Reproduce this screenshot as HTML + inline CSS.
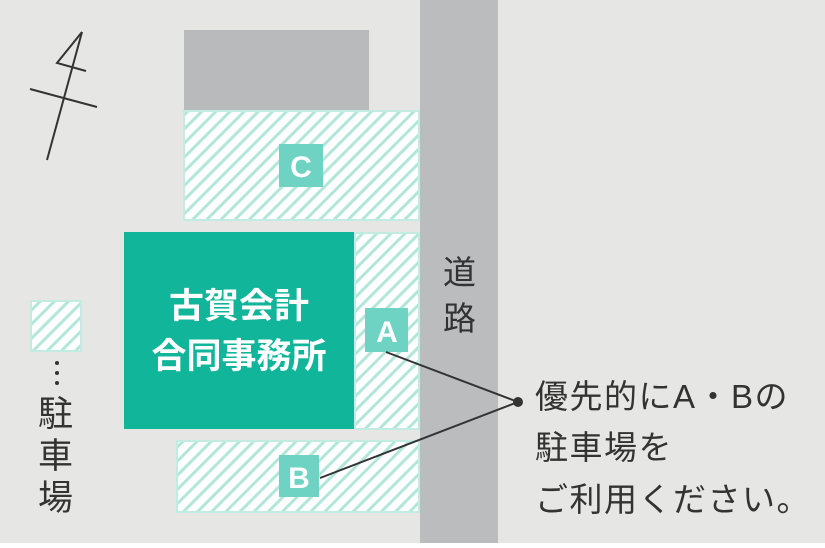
<!DOCTYPE html>
<html><head><meta charset="utf-8"><style>
body{margin:0}
svg text{font-family:"Liberation Sans","Noto Sans CJK JP",sans-serif}
</style></head><body>
<svg width="825" height="543" viewBox="0 0 825 543" xmlns="http://www.w3.org/2000/svg">
<defs>
<pattern id="h" patternUnits="userSpaceOnUse" width="10" height="10" patternTransform="rotate(45)">
<rect width="10" height="10" fill="#fff"/>
<rect x="0" y="0" width="3" height="10" fill="#b3e6da"/>
</pattern>
</defs>
<rect width="825" height="543" fill="#e6e6e5"/>
<rect x="420" y="0" width="78" height="543" fill="#bbbcbe"/>
<rect x="184" y="30" width="185" height="80" fill="#b9babc"/>
<rect x="184" y="111" width="235" height="109" fill="url(#h)" stroke="#c2ebe1" stroke-width="2"/>
<rect x="355" y="233" width="64" height="196" fill="url(#h)" stroke="#c2ebe1" stroke-width="2"/>
<rect x="177" y="441" width="242" height="71" fill="url(#h)" stroke="#c2ebe1" stroke-width="2"/>
<rect x="31" y="301" width="50" height="50" fill="url(#h)" stroke="#c2ebe1" stroke-width="2"/>
<rect x="124" y="232" width="230" height="197" fill="#10b59a"/>
<rect x="279" y="144" width="44" height="43" fill="#6fd3c3"/>
<rect x="365" y="308" width="43" height="44" fill="#6fd3c3"/>
<rect x="279" y="455" width="40" height="42" fill="#6fd3c3"/>
<g fill="#fff" font-weight="bold" font-size="30" text-anchor="middle">
<text x="301" y="177">C</text>
<text x="387" y="342">A</text>
<text x="299" y="488">B</text>
<text x="239" y="318" font-size="35">古賀会計</text>
<text x="239" y="368" font-size="35">合同事務所</text>
</g>
<g stroke="#333" stroke-width="2" fill="none">
<line x1="386" y1="352" x2="518" y2="402"/>
<line x1="320" y1="478" x2="518" y2="402"/>
<line x1="47" y1="160" x2="82" y2="32"/>
<polyline points="82,32 57,63 86,71"/>
<line x1="30" y1="89" x2="97" y2="107"/>
</g>
<circle cx="518" cy="402" r="5" fill="#333"/>
<g fill="#333" font-size="33">
<text x="443" y="284">道</text>
<text x="443" y="330">路</text>
<text x="535" y="408" letter-spacing="1.5">優先的にA・Bの</text>
<text x="535" y="459" letter-spacing="1.5">駐車場を</text>
<text x="535" y="511" letter-spacing="1.5">ご利用ください。</text>
<text x="38" y="426" font-size="35">駐</text>
<text x="38" y="468" font-size="35">車</text>
<text x="38" y="510" font-size="35">場</text>
</g>
<g fill="#333"><circle cx="57" cy="363" r="2"/><circle cx="57" cy="373" r="2"/><circle cx="57" cy="383" r="2"/></g>
</svg>
</body></html>
